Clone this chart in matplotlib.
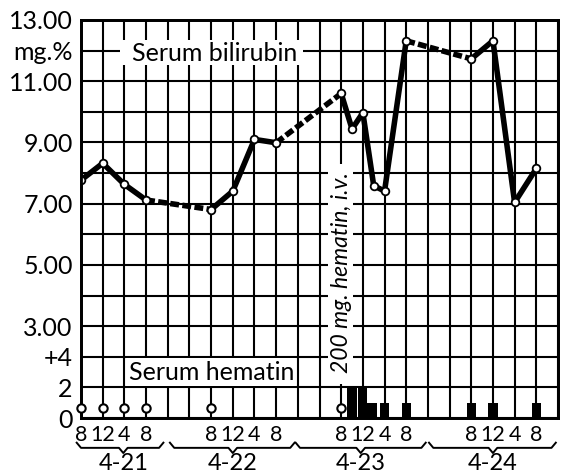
import matplotlib.pyplot as plt
import matplotlib.transforms as mtransforms
from matplotlib.patches import Rectangle

plt.rcParams['font.family'] = ['Lato', 'DejaVu Sans']

# time in hours after 8 a.m. on 4-21
bili_t = [0, 4, 8, 12, 24, 28, 32, 36, 48, 50, 52, 54, 56, 60, 72, 76, 80, 84]
bili_v = [7.77, 8.32, 7.63, 7.12, 6.81, 7.41, 9.10, 8.99, 10.60, 9.44, 9.97,
          7.59, 7.41, 12.32, 11.73, 12.32, 7.04, 8.15]

hem_zero_t = [0, 4, 8, 12, 24, 48]
hem_t = [50, 52, 53.7, 56, 60, 72, 76, 84]
hem_v = [2, 2, 1, 1, 1, 1, 1, 1]

bili_ticks = [13, 12, 11, 9, 7, 5, 3]
bili_ticklabels = ['13.00', 'mg.%', '11.00', '9.00', '7.00', '5.00', '3.00']
hem_ticks = [0, 2, 4]
hem_ticklabels = ['0', '2', '+4']
hour_names = ['8', '12', '4', '8']
days = ['4-21', '4-22', '4-23', '4-24']
# brace under each day: start, tip, end (hours)
day_braces = [(-0.8, 7.8, 15.2), (16.4, 28, 39.4), (39.6, 51.6, 63.6), (64.2, 76, 87.6)]

fig = plt.figure(figsize=(5.63, 4.75), dpi=100)
ax = fig.add_axes([0.1439, 0.12, 0.8472, 0.8379])
ax.set_xlim(0, 88)
ax.set_ylim(0, 13)

xt = list(range(0, 89, 4))
ax.set_xticks(xt)
ax.set_xticklabels([hour_names[h % 24 // 4] if h % 24 < 16 and h < 88 else '' for h in xt],
                   fontsize=15.5)
lab = dict(zip(bili_ticks, bili_ticklabels))
ax.set_yticks(range(14))
ax.set_yticklabels([lab.get(i, '') for i in range(14)], fontsize=18)
ax.tick_params(length=0)
ax.tick_params(axis='y', pad=6)
ax.tick_params(axis='x', pad=5)
ax.grid(True, color='black', lw=1.5)
ax.set_axisbelow(True)
for s in ax.spines.values():
    s.set_linewidth(2)

# bilirubin: dashed where no samples overnight
for i in range(len(bili_t) - 1):
    gap = bili_t[i + 1] - bili_t[i] > 4
    ax.plot(bili_t[i:i + 2], bili_v[i:i + 2], color='black', lw=4,
            ls=(0, (1.6, 0.6)) if gap else '-', solid_capstyle='round', zorder=4)
ax.plot(bili_t, bili_v, 'o', ms=5.5, mfc='white', mec='black', mew=1.3, zorder=5)

# label boxes blank out the grid
ax.add_patch(Rectangle((7.2, 11.53), 33.8, 0.82, fc='white', ec='none', zorder=2))
ax.text(24.7, 11.92, 'Serum bilirubin', fontsize=18, ha='center', va='center', zorder=3)
ax.add_patch(Rectangle((8.3, 1.03), 31.4, 0.94, fc='white', ec='none', zorder=2))
ax.text(24.2, 1.5, 'Serum hematin', fontsize=18, ha='center', va='center', zorder=3)
ax.add_patch(Rectangle((45.6, 1.1), 4.6, 7.2, fc='white', ec='none', zorder=2))
ax.text(48, 4.76, '200 mg. hematin, i.v.', rotation=90, style='italic', fontsize=16.5,
        ha='center', va='center', zorder=3)

# serum hematin on its own scale
ax2 = ax.twinx()
ax2.set_ylim(0, 26)
ax2.bar(hem_t, hem_v, width=1.7, color='black', zorder=3)
off = mtransforms.ScaledTranslation(0, 0.1, fig.dpi_scale_trans)
ax2.plot(hem_zero_t, [0] * len(hem_zero_t), 'o', ms=6, mfc='white', mec='black', mew=1.5,
         transform=ax2.transData + off, clip_on=False, zorder=5)
ax2.set_yticks(hem_ticks)
ax2.set_yticklabels(hem_ticklabels, fontsize=18)
ax2.yaxis.tick_left()
ax2.tick_params(length=0, pad=6)
for s in ax2.spines.values():
    s.set_linewidth(2)

# day braces
tr = mtransforms.blended_transform_factory(ax.transData, ax.transAxes)
for (a, tip, b), day in zip(day_braces, days):
    xs = [a, a + 0.8, tip - 0.8, tip, tip + 0.8, b - 0.8, b]
    ys = [-0.062, -0.075, -0.075, -0.088, -0.075, -0.075, -0.062]
    ax.plot(xs, ys, color='black', lw=1.4, transform=tr, clip_on=False)
    ax.text(tip, -0.115, day, transform=tr, ha='center', va='center', fontsize=17)

fig.savefig('out.png', dpi=100)
